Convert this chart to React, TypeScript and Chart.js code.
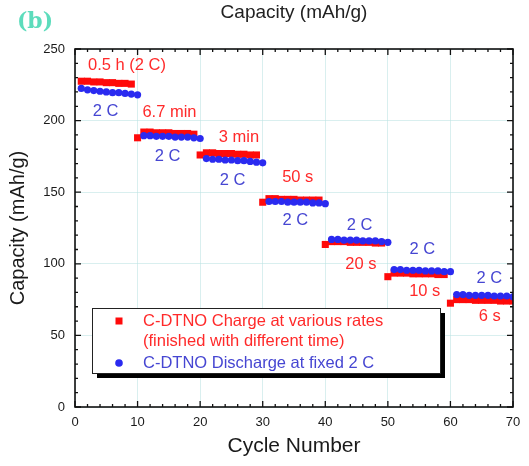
import React, { useEffect, useRef } from 'react';
import { Chart, registerables } from 'chart.js';

Chart.register(...registerables);

// ---- data ----
const cycles: number[] = Array.from({ length: 70 }, (_, i) => i + 1);

const chargeCapacity: number[] = [
  227.5, 227.5, 227, 227, 226.5, 226.5, 226, 226, 225.5,
  188, 192, 192, 191.5, 191.5, 191.5, 191, 191, 191, 190.5,
  176, 177.5, 177.5, 177, 177, 177, 176.5, 176.5, 176, 176,
  143, 145.5, 145.5, 145, 145, 145, 144.5, 144.5, 144.5, 144.5,
  113.5, 115.5, 115.5, 115.5, 115, 115, 115, 115, 114.5, 114.5,
  91, 93.5, 93.5, 93.5, 93, 93, 93, 93, 92.5, 92.5,
  72.5, 75, 75, 75, 74.5, 74.5, 74.5, 74.5, 74, 74, 74,
];

const dischargeCapacity: number[] = [
  222.5, 221.5, 221, 220.5, 220, 219.5, 219.5, 219, 218.5, 218,
  189.5, 189.5, 189, 189, 189, 188.5, 188.5, 188.5, 188, 187.5,
  173.5, 173, 173, 172.5, 172.5, 172, 172, 171.5, 171, 170.5,
  143.5, 143.5, 143.5, 143, 143, 143, 143, 142.5, 142.5, 142,
  117, 117, 116.5, 116.5, 116.5, 116, 116, 116, 115.5, 115,
  96, 96, 95.5, 95.5, 95.5, 95, 95, 95, 94.5, 94.5,
  78.5, 78.5, 78, 78, 78, 78, 77.5, 77.5, 77.5, 77,
];

const seriesLabels = [
  'C-DTNO Charge at various rates',
  'C-DTNO Discharge at fixed 2 C',
];
const legendExtraLine = '(finished with different time)';

const xTicks = { min: 0, max: 70, step: 10, minorStep: 2 };
const yTicks = { min: 0, max: 250, step: 50, minorStep: 10 };

const RED = '#ff0a0a';
const BLUE = '#2a2af0';
const RED_TEXT = '#ff2a2a';
const BLUE_TEXT = '#4646d2';

// rate labels: text, cycle, capacity, kind
const rateLabelTexts = ['0.5 h (2 C)', '2 C', '6.7 min', '2 C', '3 min', '2 C', '50 s', '2 C', '2 C', '20 s', '2 C', '10 s', '2 C', '6 s'];
const rateLabelCycles = [8.3, 4.9, 15.1, 14.8, 26.2, 25.2, 35.6, 35.2, 45.5, 45.7, 55.5, 55.9, 66.2, 66.3];
const rateLabelValues = [238.8, 206.7, 205.6, 175.3, 188.2, 158.5, 160.3, 130.6, 127, 99.2, 110, 80.6, 89.7, 63.5];
const rateLabelKinds = ['c', 'd', 'c', 'd', 'c', 'd', 'c', 'd', 'd', 'c', 'd', 'c', 'd', 'c'];

const FONT = '"Liberation Sans", Arial, Helvetica, sans-serif';

const decorPlugin = {
  id: 'decor',
  afterDraw(chart: any) {
    const { ctx, chartArea: a, scales } = chart;
    const xs = scales.x;
    const ys = scales.y;
    ctx.save();

    // frame
    ctx.strokeStyle = '#111';
    ctx.lineWidth = 1.6;
    ctx.strokeRect(a.left, a.top, a.right - a.left, a.bottom - a.top);

    // inward ticks
    ctx.lineWidth = 1.3;
    ctx.beginPath();
    for (let v = xTicks.min; v <= xTicks.max; v += xTicks.minorStep) {
      const px = xs.getPixelForValue(v);
      const len = v % xTicks.step === 0 ? 6 : 3;
      ctx.moveTo(px, a.bottom);
      ctx.lineTo(px, a.bottom - len);
      ctx.moveTo(px, a.top);
      ctx.lineTo(px, a.top + len);
    }
    for (let v = yTicks.min; v <= yTicks.max; v += yTicks.minorStep) {
      const py = ys.getPixelForValue(v);
      const len = v % yTicks.step === 0 ? 6 : 3;
      ctx.moveTo(a.left, py);
      ctx.lineTo(a.left + len, py);
      ctx.moveTo(a.right, py);
      ctx.lineTo(a.right - len, py);
    }
    ctx.stroke();

    // rate labels
    ctx.font = `16.5px ${FONT}`;
    ctx.textAlign = 'center';
    ctx.textBaseline = 'middle';
    rateLabelTexts.forEach((t, i) => {
      ctx.fillStyle = rateLabelKinds[i] === 'c' ? RED_TEXT : BLUE_TEXT;
      ctx.fillText(t, xs.getPixelForValue(rateLabelCycles[i]), ys.getPixelForValue(rateLabelValues[i]));
    });

    // legend box
    const bx = a.left + 17;
    const by = a.top + 259;
    const bw = 348;
    const bh = 65;
    ctx.fillStyle = '#000';
    ctx.fillRect(bx + 5, by + 5, bw, bh);
    ctx.fillStyle = '#fff';
    ctx.fillRect(bx, by, bw, bh);
    ctx.strokeStyle = '#222';
    ctx.lineWidth = 1;
    ctx.strokeRect(bx + 0.5, by + 0.5, bw, bh);

    const mx = bx + 27;
    const tx = bx + 51;
    ctx.fillStyle = RED;
    ctx.fillRect(mx - 3.5, by + 13 - 3.5, 7, 7);
    ctx.fillStyle = BLUE;
    ctx.beginPath();
    ctx.arc(mx, by + 55, 3.8, 0, Math.PI * 2);
    ctx.fill();

    ctx.font = `16.5px ${FONT}`;
    ctx.textAlign = 'left';
    ctx.fillStyle = RED_TEXT;
    ctx.fillText(seriesLabels[0], tx, by + 13);
    ctx.fillText(legendExtraLine, tx, by + 33);
    ctx.fillStyle = BLUE_TEXT;
    ctx.fillText(seriesLabels[1], tx, by + 55);

    // top title
    ctx.fillStyle = '#222';
    ctx.font = `19px ${FONT}`;
    ctx.textAlign = 'center';
    ctx.fillText('Capacity (mAh/g)', (a.left + a.right) / 2, 13);

    // panel letter
    ctx.fillStyle = '#5ddcbc';
    ctx.font = `bold 22px "DejaVu Serif", "Liberation Serif", serif`;
    ctx.fillText('(b)', 35, 22);

    ctx.restore();
  },
};

export default function App() {
  const ref = useRef<HTMLCanvasElement | null>(null);

  useEffect(() => {
    if (!ref.current) return;
    const chart = new Chart(ref.current, {
      type: 'scatter',
      data: {
        datasets: [
          {
            label: seriesLabels[0],
            data: cycles.map((c, i) => ({ x: c, y: chargeCapacity[i] })),
            pointStyle: 'rect',
            pointRadius: 5,
            backgroundColor: RED,
            borderColor: RED,
            borderWidth: 0,
            showLine: false,
            order: 1,
          },
          {
            label: seriesLabels[1],
            data: cycles.map((c, i) => ({ x: c, y: dischargeCapacity[i] })),
            pointStyle: 'circle',
            pointRadius: 3.6,
            backgroundColor: BLUE,
            borderColor: BLUE,
            borderWidth: 0,
            showLine: false,
            order: 0,
          },
        ],
      },
      options: {
        responsive: false,
        animation: false,
        devicePixelRatio: 1,
        layout: { padding: { top: 49, right: 16, left: 0, bottom: 0 } },
        plugins: {
          legend: { display: false },
          title: { display: false },
          tooltip: { enabled: false },
        },
        scales: {
          x: {
            type: 'linear',
            min: xTicks.min,
            max: xTicks.max,
            ticks: { stepSize: xTicks.step, padding: 8, color: '#1a1a1a', font: { family: FONT, size: 13 } },
            grid: { drawTicks: false, color: 'rgba(185,225,225,0.55)', lineWidth: 1 },
            border: { display: false },
            title: {
              display: true,
              text: 'Cycle Number',
              color: '#1a1a1a',
              font: { family: FONT, size: 21 },
              padding: { top: 0, bottom: 7 },
            },
            afterFit: (s: any) => { s.height = 59; },
          },
          y: {
            type: 'linear',
            min: yTicks.min,
            max: yTicks.max,
            ticks: { stepSize: yTicks.step, padding: 10, color: '#1a1a1a', font: { family: FONT, size: 13 } },
            grid: { drawTicks: false, color: 'rgba(185,225,225,0.55)', lineWidth: 1 },
            border: { display: false },
            title: {
              display: true,
              text: 'Capacity (mAh/g)',
              color: '#1a1a1a',
              font: { family: FONT, size: 20 },
              padding: { top: 6, bottom: 0 },
            },
            afterFit: (s: any) => { s.width = 75; },
          },
        },
      },
      plugins: [decorPlugin],
    } as any);
    return () => chart.destroy();
  }, []);

  return (
    <div style={{ position: 'fixed', left: 0, top: 0, width: 529, height: 466, background: '#fff' }}>
      <canvas ref={ref} width={529} height={466} style={{ display: 'block' }} />
    </div>
  );
}
